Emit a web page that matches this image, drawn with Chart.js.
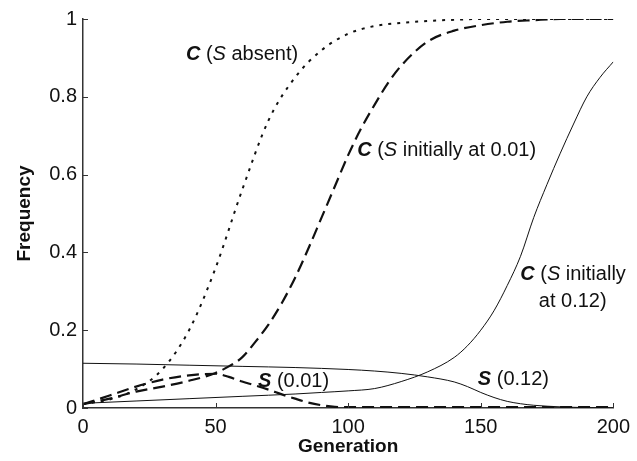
<!DOCTYPE html>
<html>
<head>
<meta charset="utf-8">
<script src="https://cdn.jsdelivr.net/npm/chart.js@4"></script>
<style>
  body { margin: 0; background: #fff; }
  canvas { display: block; }
</style>
</head>
<body>
<canvas id="freqChart" width="637" height="461"></canvas>
<script>
// generations sampled for each curve
const gensAbsent = [0, 10, 20, 30, 40, 50, 60, 70, 80, 90, 100, 110, 120, 130, 140, 150, 160, 170, 180, 190, 200];
const cAbsent = [0.01, 0.022, 0.048, 0.10, 0.20, 0.36, 0.56, 0.74, 0.85, 0.92, 0.962, 0.982, 0.99, 0.995, 0.998, 1, 1, 1, 1, 1, 1];

const gensLow = [0, 10, 20, 30, 40, 50, 55, 60, 65, 70, 75, 80, 85, 90, 95, 100, 105, 110, 115, 120, 130, 140, 150, 160, 170, 180, 190, 200];
const cWithSLow = [0.01, 0.024, 0.042, 0.055, 0.07, 0.09, 0.107, 0.13, 0.17, 0.215, 0.27, 0.335, 0.41, 0.49, 0.57, 0.65, 0.72, 0.78, 0.835, 0.88, 0.942, 0.97, 0.984, 0.993, 0.997, 1, 1, 1];
const sLow = [0.01, 0.032, 0.055, 0.073, 0.084, 0.088, 0.08, 0.068, 0.058, 0.047, 0.035, 0.024, 0.014, 0.007, 0.003, 0.002, 0.002, 0.002, 0.002, 0.002, 0.002, 0.002, 0.002, 0.002, 0.002, 0.002, 0.002, 0.002];

const gensHighC = [0, 20, 40, 60, 80, 90, 100, 110, 120, 130, 140, 145, 150, 155, 160, 165, 170, 175, 180, 185, 190, 195, 200];
const cWithSHigh = [0.012, 0.018, 0.024, 0.03, 0.036, 0.04, 0.044, 0.05, 0.068, 0.093, 0.13, 0.16, 0.2, 0.25, 0.315, 0.39, 0.49, 0.575, 0.655, 0.73, 0.8, 0.85, 0.89];

const gensHighS = [0, 20, 40, 60, 80, 100, 110, 120, 130, 140, 145, 150, 155, 160, 165, 170, 180, 190, 200];
const sHigh = [0.115, 0.113, 0.11, 0.107, 0.104, 0.099, 0.095, 0.089, 0.08, 0.067, 0.055, 0.04, 0.027, 0.017, 0.011, 0.007, 0.003, 0.001, 0];

const xTicks = [0, 50, 100, 150, 200];
const yTicks = [0, 0.2, 0.4, 0.6, 0.8, 1];

const FONT = '"Liberation Sans", Arial, Helvetica, sans-serif';
const SIZE = 20;
const INK = "#111";

function pts(xs, ys) {
  return xs.map((x, i) => ({ x, y: ys[i] }));
}

function lineSet(data, dash, width) {
  return {
    data,
    borderColor: INK,
    borderWidth: width,
    borderDash: dash,
    pointRadius: 0,
    cubicInterpolationMode: "monotone",
    fill: false,
  };
}

// curve labels: [generation, frequency, pieces of text]
const curveLabels = [
  [38.8, 0.895, [["C", "italic bold"], [" (", ""], ["S", "italic"], [" absent)", ""]]],
  [103.4, 0.649, [["C", "italic bold"], [" (", ""], ["S", "italic"], [" initially at 0.01)", ""]]],
  [164.9, 0.328, [["C", "italic bold"], [" (", ""], ["S", "italic"], [" initially", ""]]],
  [171.9, 0.259, [["at 0.12)", ""]]],
  [66.0, 0.054, [["S", "italic bold"], [" (0.01)", ""]]],
  [148.9, 0.059, [["S", "italic bold"], [" (0.12)", ""]]],
];

const labelPlugin = {
  id: "curveLabels",
  afterDatasetsDraw(chart) {
    const { ctx, scales } = chart;
    ctx.save();
    ctx.fillStyle = INK;
    ctx.textBaseline = "alphabetic";
    curveLabels.forEach(([gx, gy, parts]) => {
      let px = scales.x.getPixelForValue(gx);
      const py = scales.y.getPixelForValue(gy);
      parts.forEach(([text, style]) => {
        ctx.font = `${style} ${SIZE}px ${FONT}`.trim();
        ctx.fillText(text, px, py);
        px += ctx.measureText(text).width;
      });
    });
    ctx.restore();
  },
};

// tick marks point into the plot
const innerTicks = {
  id: "innerTicks",
  afterDraw(chart) {
    const { ctx, scales } = chart;
    const area = chart.chartArea;
    ctx.save();
    ctx.strokeStyle = "#333";
    ctx.lineWidth = 1;
    ctx.beginPath();
    xTicks.forEach((v) => {
      const px = Math.round(scales.x.getPixelForValue(v)) + 0.5;
      ctx.moveTo(px, area.bottom);
      ctx.lineTo(px, area.bottom - 5);
    });
    yTicks.forEach((v) => {
      const py = Math.round(scales.y.getPixelForValue(v)) + 0.5;
      ctx.moveTo(area.left, py);
      ctx.lineTo(area.left + 5, py);
    });
    ctx.stroke();
    ctx.restore();
  },
};

new Chart(document.getElementById("freqChart"), {
  type: "line",
  data: {
    datasets: [
      lineSet(pts(gensAbsent, cAbsent), [3, 6], 2),
      lineSet(pts(gensLow, cWithSLow), [12, 6], 2.2),
      lineSet(pts(gensLow, sLow), [12, 6], 2.2),
      lineSet(pts(gensHighC, cWithSHigh), [], 1),
      lineSet(pts(gensHighS, sHigh), [], 1),
    ],
  },
  options: {
    responsive: false,
    animation: false,
    layout: { padding: { top: 19, right: 18, left: 0, bottom: 0 } },
    plugins: { legend: { display: false }, tooltip: { enabled: false } },
    scales: {
      x: {
        type: "linear",
        min: 0,
        max: 200,
        afterBuildTicks: (scale) => { scale.ticks = xTicks.map((value) => ({ value })); },
        afterFit: (scale) => { scale.height = 53; },
        grid: { display: true, drawOnChartArea: false, drawTicks: false },
        border: { color: "#333", width: 1.5 },
        ticks: { color: INK, padding: 7, font: { family: FONT, size: SIZE } },
        title: {
          display: true,
          text: "Generation",
          color: INK,
          padding: { top: 0, bottom: 3 },
          font: { family: FONT, size: 19, weight: "bold" },
        },
      },
      y: {
        type: "linear",
        min: 0,
        max: 1,
        afterBuildTicks: (scale) => { scale.ticks = yTicks.map((value) => ({ value })); },
        afterFit: (scale) => { scale.width = 83; },
        grid: { display: true, drawOnChartArea: false, drawTicks: false },
        border: { color: "#333", width: 1.5 },
        ticks: {
          color: INK,
          padding: 6,
          font: { family: FONT, size: SIZE },
          callback: (v) => String(Math.round(v * 10) / 10),
        },
        title: {
          display: true,
          text: "Frequency",
          color: INK,
          padding: { top: 13, bottom: 0 },
          font: { family: FONT, size: 19, weight: "bold" },
        },
      },
    },
  },
  plugins: [labelPlugin, innerTicks],
});
</script>
</body>
</html>
